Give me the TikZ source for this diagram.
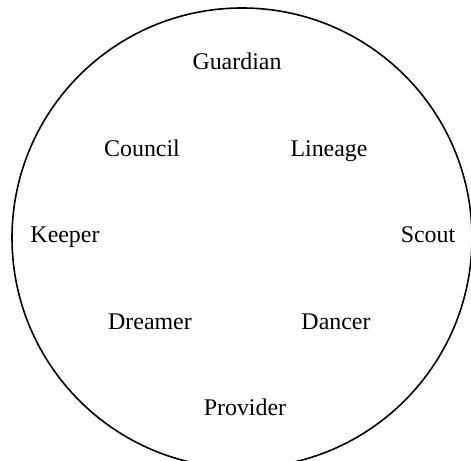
\documentclass[tikz,border=0pt]{standalone}
\usepackage{fontspec}
\setmainfont{Liberation Serif}
\begin{document}
\begin{tikzpicture}[x=1bp,y=1bp,
  lbl/.style={anchor=base,inner sep=0pt,font=\fontsize{24}{28}\selectfont}]
\useasboundingbox (0,0) rectangle (471,461);
\clip (0,0) rectangle (471,461);
\draw[line width=1.6bp] (242,223) circle[radius=230];
\node[lbl] (guardian) at (237,391) {Guardian};
\node[lbl] (council) at (142,304) {Council};
\node[lbl] (lineage) at (329,304) {Lineage};
\node[lbl] (keeper) at (65,218) {Keeper};
\node[lbl] (scout) at (428,218) {Scout};
\node[lbl] (dreamer) at (150,131) {Dreamer};
\node[lbl] (dancer) at (336,131) {Dancer};
\node[lbl] (provider) at (245,45) {Provider};
\end{tikzpicture}
\end{document}
